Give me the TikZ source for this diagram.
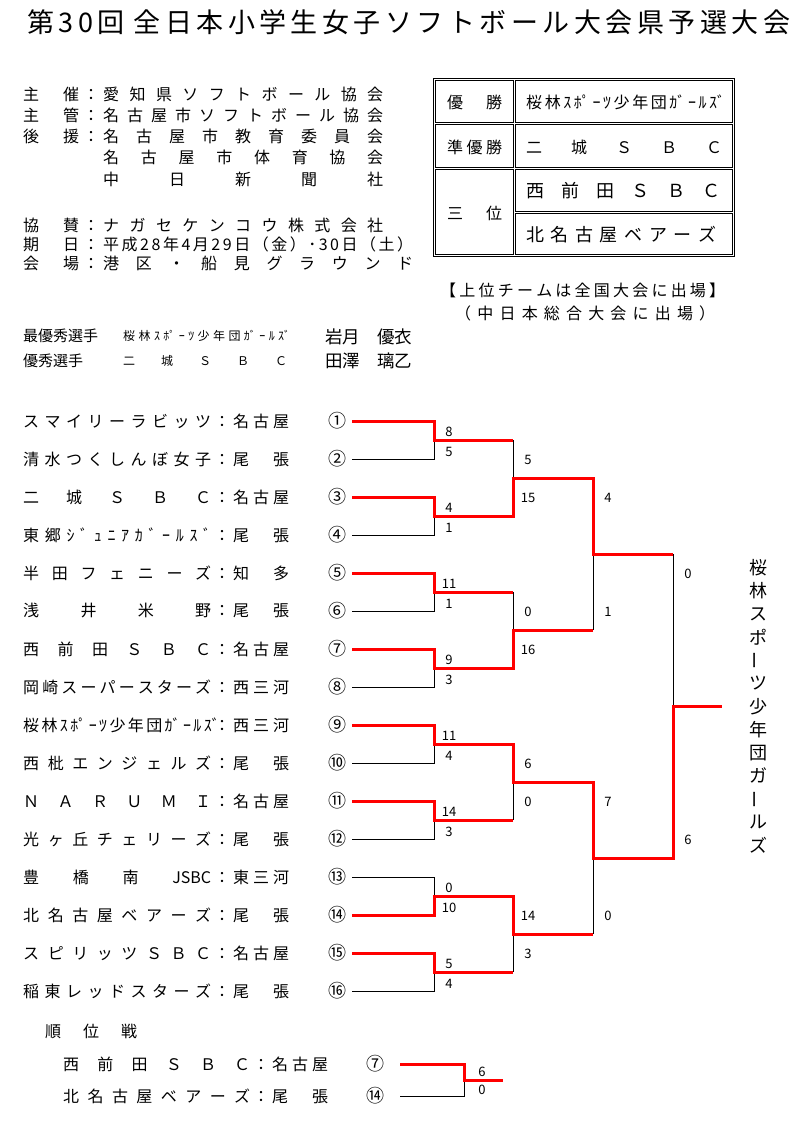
\documentclass[tikz,border=0pt]{standalone}
\usepackage{fontspec}
\setmainfont{Noto Sans CJK JP}
\hbadness=10000
\newcommand{\sized}[1]{\fontsize{#1}{#1}\selectfont}
\newcommand{\spread}[2]{\makebox[#1][s]{#2}}

\begin{document}
\begin{tikzpicture}[x=1pt,y=-1pt,
 txt/.style={anchor=west,inner sep=0pt,font=\sized{16pt}},
 seed/.style={inner sep=0pt,font=\sized{18pt}},
 sc/.style={inner sep=0pt,font=\sized{13pt}},
 vch/.style={inner sep=0pt,font=\sized{18pt}},
 cell/.style={draw,line width=1pt},
 lose/.style={draw,line width=1pt},
 won/.style={draw=red,line width=3pt}]
\useasboundingbox (0,0) rectangle (794,1131);
\node[txt,font=\sized{27pt}] (title) at (27,22) {\spread{763pt}{第 3 0 回\ \ 全 日 本 小 学 生 女 子 ソ フ ト ボ ー ル 大 会 県 予 選 大 会}};

\node[txt] (host) at (23,94) {\spread{56pt}{主 催}\makebox[24pt]{：}\spread{280pt}{愛 知 県 ソ フ ト ボ ー ル 協 会}};
\node[txt] (mgr) at (23,115) {\spread{56pt}{主 管}\makebox[24pt]{：}\spread{280pt}{名 古 屋 市 ソ フ ト ボ ー ル 協 会}};
\node[txt] (sup1) at (23,136) {\spread{56pt}{後 援}\makebox[24pt]{：}\spread{280pt}{名 古 屋 市 教 育 委 員 会}};
\node[txt] (sup2) at (103,157) {\spread{280pt}{名 古 屋 市 体 育 協 会}};
\node[txt] (sup3) at (103,179) {\spread{280pt}{中 日 新 聞 社}};
\node[txt] (spon) at (23,225) {\spread{56pt}{協 賛}\makebox[24pt]{：}\spread{280pt}{ナ ガ セ ケ ン コ ウ 株 式 会 社}};
\node[txt] (date) at (23,244) {\spread{56pt}{期 日}\makebox[24pt]{：}\spread{310pt}{平 成 2 8 年 4 月 2 9 日 （ 金 ） ･ 3 0 日 （ 土 ）}};
\node[txt] (venue) at (23,263) {\spread{56pt}{会 場}\makebox[24pt]{：}\spread{310pt}{港 区 ・ 船 見 グ ラ ウ ン ド}};

\node[txt,font=\sized{15pt}] (mvp) at (23,336) {最優秀選手};
\node[txt,font=\sized{12pt}] (mvpteam) at (123,336) {\spread{167pt}{桜 林 ｽ ﾎﾟ ｰ ﾂ 少 年 団 ｶﾞ ｰ ﾙ ｽﾞ}};
\node[txt,font=\sized{17.5pt}] (mvpname) at (325,337) {\spread{87pt}{岩月 優衣}};
\node[txt,font=\sized{15pt}] (best) at (23,361) {優秀選手};
\node[txt,font=\sized{12pt}] (bestteam) at (123,361) {\spread{164pt}{二 城 Ｓ Ｂ Ｃ}};
\node[txt,font=\sized{17.5pt}] (bestname) at (325,361) {\spread{87pt}{田澤 璃乙}};

\draw[cell] (433,79) rectangle (734,257);
\draw[cell] (435,81) rectangle (513,123);
\draw[cell] (515,81) rectangle (732,123);
\draw[cell] (435,125) rectangle (513,168);
\draw[cell] (515,125) rectangle (732,168);
\draw[cell] (435,170) rectangle (513,255);
\draw[cell] (515,170) rectangle (732,212);
\draw[cell] (515,214) rectangle (732,255);
\node[txt] (gold) at (447,102) {\spread{55pt}{優 勝}};
\node[txt] (goldteam) at (526,102) {\spread{199pt}{桜 林 ｽ ﾎﾟ ｰ ﾂ 少 年 団 ｶﾞ ｰ ﾙ ｽﾞ}};
\node[txt] (silver) at (447,147) {\spread{55pt}{準 優 勝}};
\node[txt] (silverteam) at (526,147) {\spread{196pt}{二 城 Ｓ Ｂ Ｃ}};
\node[txt] (bronze) at (447,213) {\spread{55pt}{三 位}};
\node[txt,font=\sized{18pt}] (bronzeA) at (526,191) {\spread{194pt}{西 前 田 Ｓ Ｂ Ｃ}};
\node[txt,font=\sized{18pt}] (bronzeB) at (526,235) {\spread{190pt}{北 名 古 屋 ベ ア ー ズ}};
\node[txt] (noteA) at (440,290) {\spread{285pt}{【 上 位 チ ー ム は 全 国 大 会 に 出 場 】}};
\node[txt] (noteB) at (455,313) {\spread{260pt}{（ 中 日 本 総 合 大 会 に 出 場 ）}};

\foreach \i/\nm/\rg/\cn in {
 1/{ス マ イ リ ー ラ ビ ッ ツ}/{名 古 屋}/①,
 2/{清 水 つ く し ん ぼ 女 子}/{尾 張}/②,
 3/{二 城 Ｓ Ｂ Ｃ}/{名 古 屋}/③,
 4/{東 郷 ｼ ﾞ ｭ ﾆ ｱ ｶ ﾞ ｰ ﾙ ｽ ﾞ}/{尾 張}/④,
 5/{半 田 フ ェ ニ ー ズ}/{知 多}/⑤,
 6/{浅 井 米 野}/{尾 張}/⑥,
 7/{西 前 田 Ｓ Ｂ Ｃ}/{名 古 屋}/⑦,
 8/{岡 崎 ス ー パ ー ス タ ー ズ}/{西 三 河}/⑧,
 9/{桜 林 ｽ ﾎﾟ ｰ ﾂ 少 年 団 ｶﾞ ｰ ﾙ ｽﾞ}/{西 三 河}/⑨,
 10/{西 枇 エ ン ジ ェ ル ズ}/{尾 張}/⑩,
 11/{Ｎ Ａ Ｒ Ｕ Ｍ Ｉ}/{名 古 屋}/⑪,
 12/{光 ヶ 丘 チ ェ リ ー ズ}/{尾 張}/⑫,
 13/{豊 橋 南 JSBC}/{東 三 河}/⑬,
 14/{北 名 古 屋 ベ ア ー ズ}/{尾 張}/⑭,
 15/{ス ピ リ ッ ツ Ｓ Ｂ Ｃ}/{名 古 屋}/⑮,
 16/{稲 東 レ ッ ド ス タ ー ズ}/{尾 張}/⑯} {
 \node[txt] (team\i) at (23,{421+38*(\i-1)}) {\spread{188pt}{\nm}\makebox[22pt]{：}\spread{56pt}{\rg}};
 \node[seed] (seed\i) at (337,{421+38*(\i-1)}) {\cn};
 \coordinate (p\i) at (352,{421+38*(\i-1)});
}
\foreach \k in {1,...,8} \coordinate (a\k) at (434,{440+76*(\k-1)});
\foreach \m in {1,...,4} \coordinate (b\m) at (513,{478+152*(\m-1)});
\coordinate (c1) at (593,554);
\coordinate (c2) at (593,858);
\coordinate (f) at (673,706);
\coordinate (champ) at (722,706);

\foreach \i/\k in {2/1,4/2,6/3,8/4,10/5,12/6,13/7,16/8} \draw[lose] (p\i) -| (a\k);
\draw[lose] (a1 -| b1) -- (b1) (a3 -| b2) -- (b2) (a6 -| b3) -- (b3) (a8 -| b4) -- (b4)
 (b2 -| c1) -- (c1) (b4 -| c2) -- (c2) (c1 -| f) -- (f);
\draw[won] (p1) -| (a1) -- (a1 -| b1);
\draw[won] (p3) -| (a2) -| (b1) -| (c1) -- (c1 -| f);
\draw[won] (p5) -| (a3) -- (a3 -| b2);
\draw[won] (p7) -| (a4) -| (b2) -- (b2 -| c1);
\draw[won] (p9) -| (a5) -| (b3) -| (c2) -| (f) -- (champ);
\draw[won] (p11) -| (a6) -- (a6 -| b3);
\draw[won] (p14) -| (a7) -| (b4) -- (b4 -| c2);
\draw[won] (p15) -| (a8) -- (a8 -| b4);

\foreach \u/\l [count=\k] in {8/5,4/1,11/1,9/3,11/4,14/3,0/10,5/4} {
 \node[sc] (ra\k) at (449,{431.5+76*(\k-1)}) {\u};
 \node[sc] (rb\k) at (449,{451.5+76*(\k-1)}) {\l};
}
\foreach \u/\l [count=\m] in {5/15,0/16,6/0,14/3} {
 \node[sc] (sa\m) at (528,{460+152*(\m-1)}) {\u};
 \node[sc] (sb\m) at (528,{498+152*(\m-1)}) {\l};
}
\foreach \u/\l [count=\j] in {4/1,7/0} {
 \node[sc] (ta\j) at (608,{498+304*(\j-1)}) {\u};
 \node[sc] (tb\j) at (608,{612+304*(\j-1)}) {\l};
}
\node[sc] (fa) at (688,574) {0};
\node[sc] (fb) at (688,840) {6};
\foreach \ch/\r [count=\k from 0] in {桜/0,林/0,ス/0,ポ/0,ー/90,ツ/0,少/0,年/0,団/0,ガ/0,ー/90,ル/0,ズ/0}
 \node[vch,rotate=\r] (win\k) at (758,{568+23.1*\k}) {\ch};

\node[txt] (third) at (45,1031) {\spread{92pt}{順 位 戦}};
\node[txt] (thirdA) at (63,1064) {\spread{187pt}{西 前 田 Ｓ Ｂ Ｃ}\makebox[22pt]{：}\spread{56pt}{名 古 屋}};
\node[txt] (thirdB) at (63,1096) {\spread{187pt}{北 名 古 屋 ベ ア ー ズ}\makebox[22pt]{：}\spread{56pt}{尾 張}};
\node[seed] (seedA) at (375,1064) {⑦};
\node[seed] (seedB) at (375,1096) {⑭};
\coordinate (q1) at (400,1064);
\coordinate (q2) at (400,1096);
\coordinate (g) at (464,1080);
\coordinate (h) at (503,1080);
\draw[lose] (q2) -| (g);
\draw[won] (q1) -| (g) -- (h);
\node[sc] (ga) at (482,1072) {6};
\node[sc] (gb) at (482,1090) {0};
\end{tikzpicture}
\end{document}
